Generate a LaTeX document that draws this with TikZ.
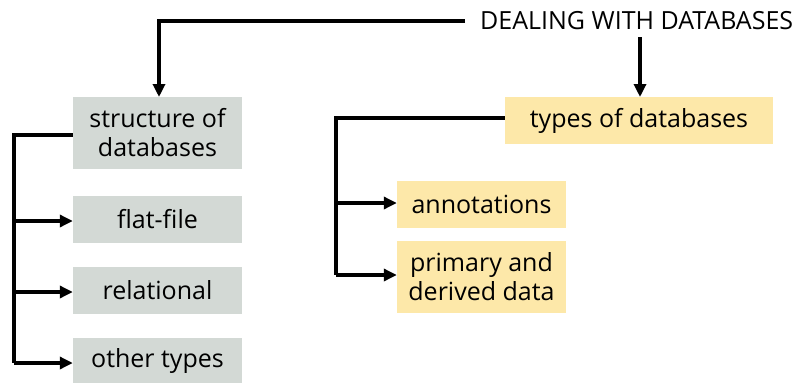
\documentclass[tikz,border=0pt]{standalone}
\usepackage{fontspec}
\setmainfont{Open Sans}
\usetikzlibrary{arrows.meta}
\definecolor{boxgray}{HTML}{D3D9D5}
\definecolor{boxyellow}{HTML}{FDE8A9}
\begin{document}
\begin{tikzpicture}[x=1pt,y=-1pt,
  gbox/.style={fill=boxgray,inner sep=0pt,align=center,font=\fontsize{25}{29}\selectfont},
  ybox/.style={fill=boxyellow,inner sep=0pt,align=center,font=\fontsize{25}{29}\selectfont},
  conn/.style={line width=3.2pt,-{Triangle[length=13pt,width=12pt]}},
  plain/.style={line width=3.2pt}]
\useasboundingbox (0,0) rectangle (805,383);
\node[font=\fontsize{25}{29}\selectfont,anchor=west,inner sep=0pt] (title) at (480,21) {DEALING WITH DATABASES};
\node[gbox,minimum width=169pt,minimum height=72pt] (struct) at (157.5,133) {structure of\\databases};
\node[gbox,minimum width=169pt,minimum height=47pt] (flat) at (157.5,219) {flat-file};
\node[gbox,minimum width=169pt,minimum height=47pt] (rel) at (157.5,290.5) {relational};
\node[gbox,minimum width=169pt,minimum height=45pt] (other) at (157.5,360.5) {other types};
\node[ybox,minimum width=268pt,minimum height=47pt] (types) at (639,120.5) {types of databases};
\node[ybox,minimum width=169pt,minimum height=47pt] (annot) at (481.5,204.5) {annotations};
\node[ybox,minimum width=169pt,minimum height=72pt] (prim) at (481.5,277) {primary and\\derived data};
\coordinate (tl) at (465,21);
\coordinate (lb) at (14,135);
\coordinate (rb) at (336,118);
\draw[conn] (tl) -- (159,21) -- (159,97);
\draw[conn] (640,37) -- (640,97);
\draw[plain] (struct.west |- lb) -- (lb) -- (14,363);
\draw[conn] (14,221) -- (flat.west |- 0,221);
\draw[conn] (14,292) -- (rel.west |- 0,292);
\draw[conn] (14,363) -- (other.west |- 0,363);
\draw[plain] (types.west |- rb) -- (rb) -- (336,275);
\draw[conn] (336,203) -- (annot.west |- 0,203);
\draw[conn] (336,275) -- (prim.west |- 0,275);
\end{tikzpicture}
\end{document}
